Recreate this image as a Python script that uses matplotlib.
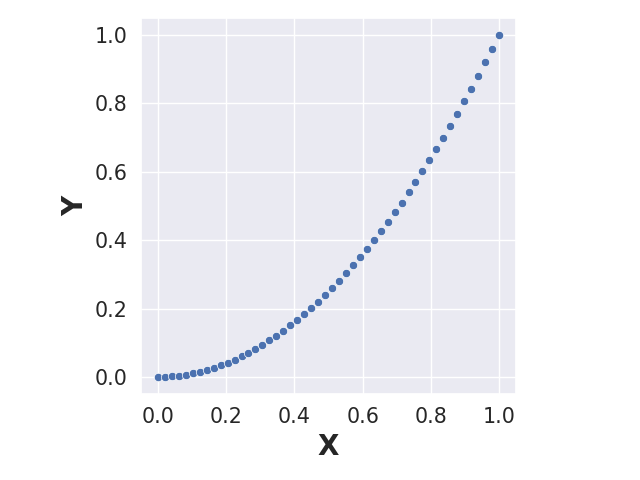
import matplotlib
matplotlib.use("Agg")
import matplotlib.pyplot as plt
import seaborn as sns

x_vals = [0.0, 0.0204, 0.0408, 0.0612, 0.0816, 0.102, 0.1224, 0.1429, 0.1633, 0.1837,
          0.2041, 0.2245, 0.2449, 0.2653, 0.2857, 0.3061, 0.3265, 0.3469, 0.3673, 0.3878,
          0.4082, 0.4286, 0.449, 0.4694, 0.4898, 0.5102, 0.5306, 0.551, 0.5714, 0.5918,
          0.6122, 0.6327, 0.6531, 0.6735, 0.6939, 0.7143, 0.7347, 0.7551, 0.7755, 0.7959,
          0.8163, 0.8367, 0.8571, 0.8776, 0.898, 0.9184, 0.9388, 0.9592, 0.9796, 1.0]
y_vals = [0.0, 0.0004, 0.0017, 0.0037, 0.0067, 0.0104, 0.015, 0.0204, 0.0267, 0.0337,
          0.0416, 0.0504, 0.06, 0.0704, 0.0816, 0.0937, 0.1066, 0.1204, 0.1349, 0.1504,
          0.1666, 0.1837, 0.2016, 0.2203, 0.2399, 0.2603, 0.2816, 0.3036, 0.3265, 0.3502,
          0.3748, 0.4003, 0.4265, 0.4536, 0.4815, 0.5102, 0.5398, 0.5702, 0.6014, 0.6335,
          0.6664, 0.7001, 0.7347, 0.7701, 0.8063, 0.8434, 0.8813, 0.9201, 0.9596, 1.0]

sns.set_theme(style="darkgrid", font_scale=1.35)

fig = plt.figure(figsize=(6.4, 4.8), dpi=100)
ax = fig.add_axes([141 / 640, 86 / 480, 375 / 640, 376 / 480])
sns.scatterplot(x=x_vals, y=y_vals, ax=ax, s=36)

ax.set_xlabel("X", fontsize=20, fontweight="bold")
ax.set_ylabel("Y", fontsize=20, fontweight="bold")

fig.savefig("out.png", dpi=100)
